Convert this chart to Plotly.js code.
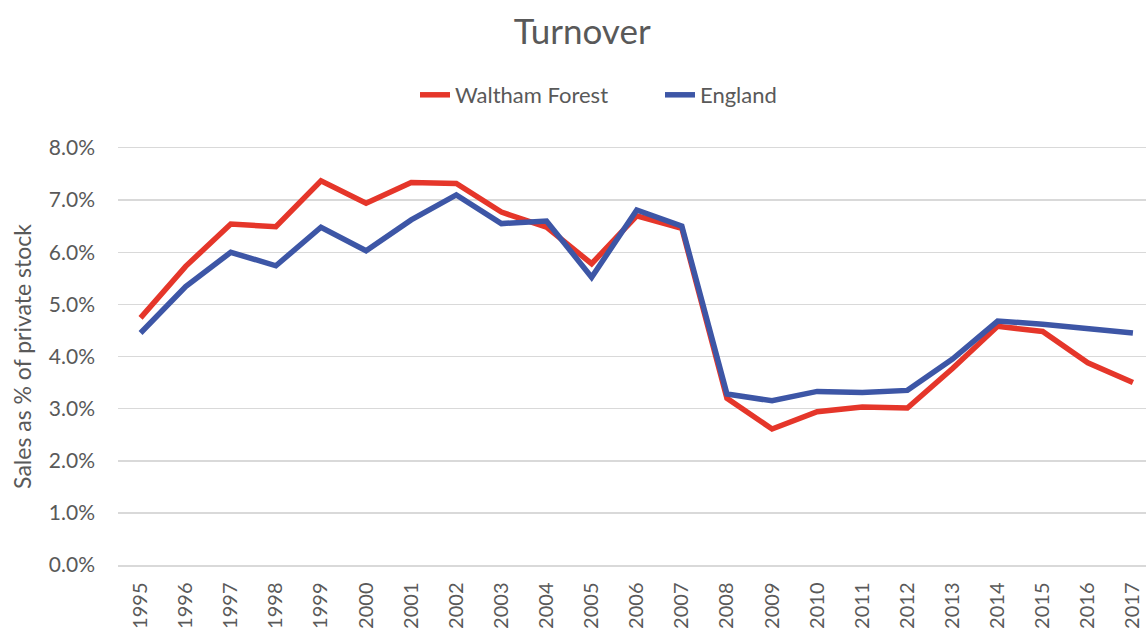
<!DOCTYPE html>
<html>
<head>
<meta charset="utf-8">
<script src="https://cdn.plot.ly/plotly-3.0.1.min.js"></script>
<style>html,body{margin:0;padding:0;background:#fff;}#chart{width:1146px;height:628px;}</style>
</head>
<body>
<div id="chart"></div>
<script>
const years = ["1995","1996","1997","1998","1999","2000","2001","2002","2003","2004","2005","2006","2007","2008","2009","2010","2011","2012","2013","2014","2015","2016","2017"];
const walthamForest = [4.74,5.73,6.54,6.49,7.37,6.94,7.34,7.32,6.77,6.48,5.78,6.70,6.46,3.20,2.61,2.94,3.03,3.01,3.77,4.58,4.48,3.88,3.50];
const england = [4.45,5.34,6.00,5.74,6.48,6.03,6.62,7.10,6.55,6.60,5.52,6.81,6.50,3.28,3.15,3.33,3.31,3.35,3.95,4.68,4.62,4.54,4.45];
const yTicks = [0,1,2,3,4,5,6,7,8];
const yTickText = ["0.0%","1.0%","2.0%","3.0%","4.0%","5.0%","6.0%","7.0%","8.0%"];

const textColor = "#595959";
const font = "Lato, 'Open Sans', sans-serif";

const data = [
  {x: years, y: walthamForest, name: "Waltham Forest", type: "scatter", mode: "lines",
   line: {color: "#E5362A", width: 5.5}},
  {x: years, y: england, name: "England", type: "scatter", mode: "lines",
   line: {color: "#3D56A6", width: 5.5}}
];

const layout = {
  width: 1146, height: 628,
  paper_bgcolor: "#fff", plot_bgcolor: "#fff",
  margin: {l: 118, r: 0, t: 148, b: 63},
  font: {family: font, color: textColor},
  title: {text: "Turnover", font: {size: 35, color: textColor, family: font},
          xref: "container", x: 0.508, xanchor: "center", yref: "container", y: 1 - 32/628, yanchor: "middle"},
  showlegend: true,
  legend: {orientation: "h", xref: "container", x: 415/1146, xanchor: "left", yref: "container", y: 1 - 95/628, yanchor: "middle",
           font: {size: 22, color: textColor, family: font}, entrywidth: 200, entrywidthmode: "pixels"},
  xaxis: {type: "category", range: [-0.5, 22.29], showgrid: false, zeroline: false,
          showline: true, mirror: true, linecolor: "#D9D9D9", linewidth: 1.5,
          ticks: "outside", ticklen: 8, tickcolor: "rgba(0,0,0,0)", tickangle: -90,
          tickfont: {size: 20, color: textColor, family: font}, fixedrange: true},
  yaxis: {range: [0, 8], tickvals: yTicks, ticktext: yTickText, showgrid: true, gridcolor: "#D9D9D9", gridwidth: 1.5,
          zeroline: false, showline: false, ticks: "", ticklabelstandoff: 22,
          tickfont: {size: 21, color: textColor, family: font},
          title: {text: "Sales as % of private stock", font: {size: 23, color: textColor, family: font}, standoff: 10}}
};

Plotly.newPlot("chart", data, layout, {displayModeBar: false, staticPlot: true});
</script>
</body>
</html>
